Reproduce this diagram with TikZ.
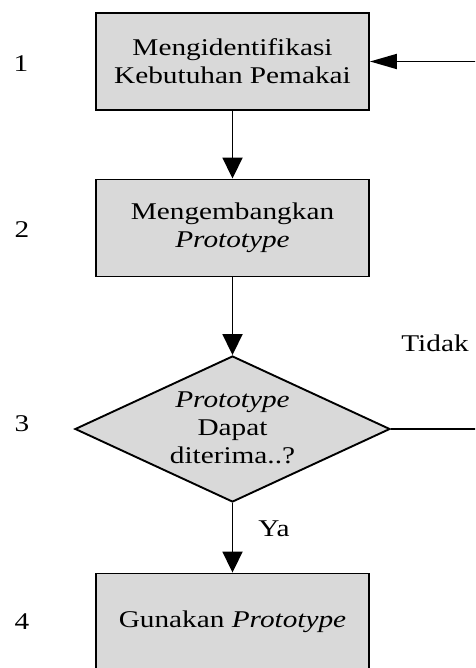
\documentclass[tikz,border=0pt]{standalone}
\usepackage{fontspec}
\setmainfont{Liberation Serif}[FakeStretch=1.22]
\usetikzlibrary{shapes.geometric,arrows.meta}
\definecolor{boxgray}{HTML}{D9D9D9}
\tikzset{
  every node/.style={font=\fontsize{24}{28}\selectfont},
  stepbox/.style={draw=black, line width=1.9pt, fill=boxgray, minimum width=273pt, minimum height=97pt, inner sep=0pt, align=center},
  decision/.style={draw=black, line width=1.9pt, fill=boxgray, diamond, minimum width=315pt, minimum height=146pt, inner sep=0pt},
  plain/.style={inner sep=0pt, align=center},
  conn/.style={line width=1.9pt},
  arrdown/.style={conn, -{Triangle[length=21pt,width=20pt]}},
  arrleft/.style={conn, -{Triangle[length=27pt,width=15pt]}}
}
\begin{document}
\begin{tikzpicture}[x=1pt,y=-1pt]
\path[use as bounding box, clip] (0,0) rectangle (475,668);
\node[stepbox] (b1) at (232.5,61.5) {Mengidentifikasi\\Kebutuhan Pemakai};
\node[stepbox] (b2) at (232.5,228) {Mengembangkan\\\textit{Prototype}};
\node[decision] (d) at (232.5,429) {};
\node[plain] (dt) at (232.5,428) {\textit{Prototype}\\Dapat\\diterima..?};
\node[stepbox] (b4) at (232.5,622) {Gunakan \textit{Prototype}};
\node[plain] (n1) at (21,64) {1};
\node[plain] (n2) at (22,230) {2};
\node[plain] (n3) at (22,424) {3};
\node[plain] (n4) at (22,622) {4};
\node[plain] (tidak) at (435,343) {Tidak};
\node[plain] (ya) at (274,529) {Ya};
\coordinate (loop) at (495,429);
\draw[arrdown] (b1.south) -- (b2.north);
\draw[arrdown] (b2.south) -- (d.north);
\draw[arrdown] (d.south) -- (b4.north);
\draw[arrleft] (d.east) -- (loop) |- (b1.east);
\end{tikzpicture}
\end{document}
